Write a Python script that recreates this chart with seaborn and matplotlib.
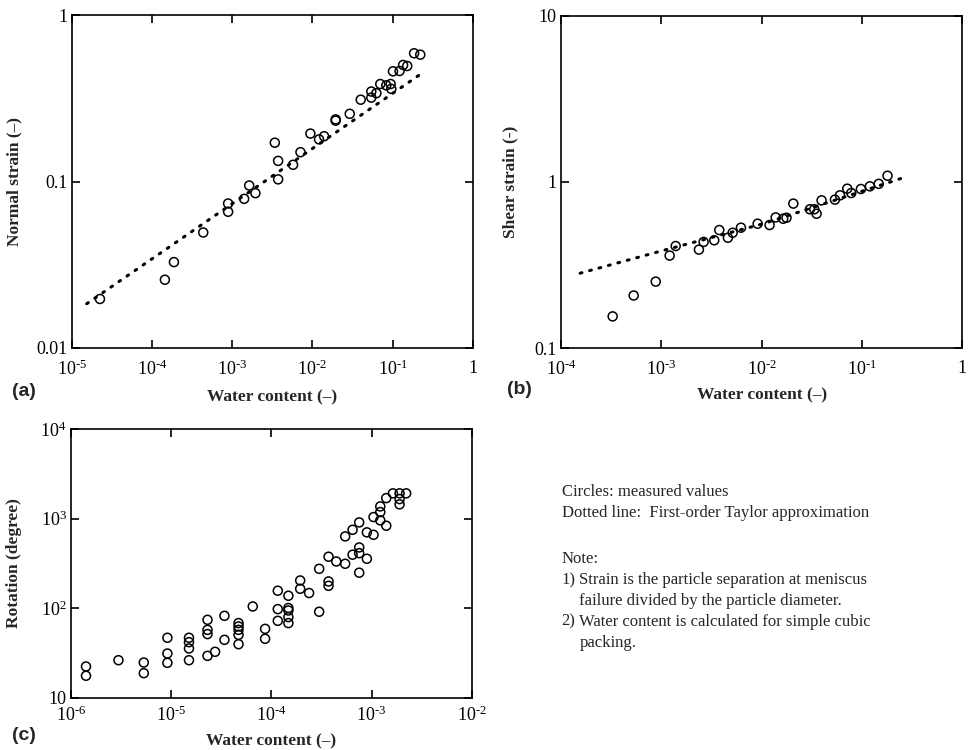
import numpy as np
import pandas as pd
import matplotlib
matplotlib.use('Agg')
from matplotlib import pyplot as plt
from matplotlib.ticker import FixedLocator, FixedFormatter, NullLocator
import seaborn as sns

# (a) normal strain vs water content
wc_a = [2.25e-5, 1.45e-4, 1.88e-4, 4.36e-4, 8.9e-4, 8.9e-4, 1.41e-3, 1.63e-3, 1.95e-3,
        3.40e-3, 3.74e-3, 3.74e-3, 5.74e-3, 7.10e-3, 9.44e-3, 1.21e-2, 1.40e-2, 1.95e-2,
        1.95e-2, 2.92e-2, 4.00e-2, 5.42e-2, 5.42e-2, 6.27e-2, 7.01e-2, 8.34e-2, 9.44e-2,
        9.62e-2, 0.101, 0.122, 0.135, 0.152, 0.185, 0.221]
strain_a = [0.0197, 0.0257, 0.0328, 0.0494, 0.0658, 0.0738, 0.0787, 0.0946, 0.0851,
            0.171, 0.133, 0.103, 0.126, 0.150, 0.194, 0.179, 0.187, 0.232,
            0.236, 0.255, 0.310, 0.319, 0.347, 0.339, 0.385, 0.378, 0.385,
            0.360, 0.459, 0.461, 0.501, 0.494, 0.589, 0.578]
taylor_wc_a = [1.54e-5, 0.232]
taylor_a = [0.01845, 0.447]

# (b) shear strain vs water content
wc_b = [3.27e-4, 5.30e-4, 8.79e-4, 1.21e-3, 1.39e-3, 2.37e-3, 2.64e-3, 3.37e-3, 3.78e-3,
        4.61e-3, 5.14e-3, 6.22e-3, 9.12e-3, 1.20e-2, 1.38e-2, 1.64e-2, 1.77e-2, 2.07e-2,
        3.03e-2, 3.35e-2, 3.53e-2, 3.96e-2, 5.38e-2, 6.04e-2, 7.14e-2, 7.83e-2, 9.77e-2,
        0.120, 0.147, 0.180]
strain_b = [0.155, 0.207, 0.251, 0.360, 0.411, 0.391, 0.435, 0.445, 0.513,
            0.461, 0.494, 0.530, 0.560, 0.550, 0.611, 0.600, 0.608, 0.740,
            0.684, 0.684, 0.643, 0.774, 0.782, 0.830, 0.910, 0.857, 0.906,
            0.940, 0.973, 1.089]
taylor_wc_b = [1.55e-4, 1.05e-3, 1.04e-2, 0.252]
taylor_b = [0.282, 0.387, 0.560, 1.054]

# (c) rotation vs water content
wc_c = [1.42e-6, 1.42e-6, 2.99e-6, 5.35e-6, 5.35e-6, 9.2e-6, 9.2e-6, 9.2e-6,
        1.51e-5, 1.51e-5, 1.51e-5, 1.51e-5, 2.31e-5, 2.31e-5, 2.31e-5, 2.31e-5,
        2.75e-5, 3.41e-5, 3.41e-5, 4.71e-5, 4.71e-5, 4.71e-5, 4.71e-5, 4.71e-5,
        6.53e-5, 8.67e-5, 8.67e-5, 1.16e-4, 1.16e-4, 1.16e-4,
        1.48e-4, 1.48e-4, 1.48e-4, 1.48e-4, 1.48e-4, 1.94e-4, 1.94e-4, 2.38e-4,
        3.0e-4, 3.0e-4, 3.72e-4, 3.72e-4, 3.72e-4, 4.44e-4, 5.45e-4, 5.45e-4,
        6.46e-4, 6.46e-4, 7.52e-4, 7.52e-4, 7.52e-4, 7.52e-4, 8.97e-4, 8.97e-4,
        1.045e-3, 1.045e-3, 1.22e-3, 1.22e-3, 1.22e-3, 1.40e-3, 1.40e-3,
        1.63e-3, 1.90e-3, 1.90e-3, 1.90e-3, 2.21e-3]
rot_c = [22.2, 17.5, 26.1, 24.6, 18.7, 46.5, 31.0, 24.4,
         46.5, 41.5, 35.3, 26.1, 73.8, 57.0, 51.1, 29.2,
         32.4, 81.8, 44.1, 67.8, 62.2, 57.0, 50.1, 39.4,
         104, 58.5, 45.3, 156, 97.1, 71.9,
         137, 100, 93.8, 79.1, 67.8, 203, 164, 147,
         274, 90.8, 198, 177, 374, 331, 631, 312,
         748, 394, 904, 475, 410, 248, 700, 355,
         1038, 658, 1365, 1180, 953, 1690, 830,
         1910, 1910, 1648, 1439, 1910]

xticks_a = [1e-5, 1e-4, 1e-3, 1e-2, 1e-1, 1]
xlabels_a = ['$10^{\\text{-5}}$', '$10^{\\text{-4}}$', '$10^{\\text{-3}}$',
             '$10^{\\text{-2}}$', '$10^{\\text{-1}}$', '1']
yticks_a = [0.01, 0.1, 1]
ylabels_a = ['0.01', '0.1', '1']
xticks_b = [1e-4, 1e-3, 1e-2, 1e-1, 1]
xlabels_b = ['$10^{\\text{-4}}$', '$10^{\\text{-3}}$', '$10^{\\text{-2}}$',
             '$10^{\\text{-1}}$', '1']
yticks_b = [0.1, 1, 10]
ylabels_b = ['0.1', '1', '10']
xticks_c = [1e-6, 1e-5, 1e-4, 1e-3, 1e-2]
xlabels_c = ['$10^{\\text{-6}}$', '$10^{\\text{-5}}$', '$10^{\\text{-4}}$',
             '$10^{\\text{-3}}$', '$10^{\\text{-2}}$']
yticks_c = [10, 100, 1000, 10000]
ylabels_c = ['10', '$10^{2}$', '$10^{3}$', '$10^{4}$']

sns.set_style('ticks')
plt.rcParams['font.family'] = ['Liberation Serif', 'DejaVu Serif']
plt.rcParams['mathtext.fontset'] = 'custom'
plt.rcParams['mathtext.rm'] = 'Liberation Serif'
plt.rcParams['mathtext.it'] = 'Liberation Serif'
plt.rcParams['axes.linewidth'] = 1.2

fig = plt.figure(figsize=(9.69, 7.5), dpi=100)
ax_a = fig.add_axes([0.074, 0.536, 0.414, 0.444])
ax_b = fig.add_axes([0.579, 0.536, 0.414, 0.443])
ax_c = fig.add_axes([0.073, 0.070, 0.414, 0.358])


def draw(ax, x, y, lx, ly, xt, xl, yt, yl, ylab, xpad, lpad):
    if lx is not None:
        sns.lineplot(x=lx, y=ly, ax=ax, color='black', linewidth=2.2,
                     linestyle=(0, (0.6, 2.6)), dash_capstyle='round')
    sns.scatterplot(x=x, y=y, ax=ax, marker='o', s=42, facecolor='none',
                    edgecolor='black', linewidth=1.1, zorder=3)
    ax.set_xscale('log')
    ax.set_yscale('log')
    ax.set_xlim(xt[0], xt[-1])
    ax.set_ylim(yt[0], yt[-1])
    ax.xaxis.set_major_locator(FixedLocator(xt))
    ax.xaxis.set_major_formatter(FixedFormatter(xl))
    ax.yaxis.set_major_locator(FixedLocator(yt))
    ax.yaxis.set_major_formatter(FixedFormatter(yl))
    ax.xaxis.set_minor_locator(NullLocator())
    ax.yaxis.set_minor_locator(NullLocator())
    ax.tick_params(which='major', direction='in', top=True, right=True,
                   length=6, width=1.2, labelsize=13, pad=3, colors='black')
    ax.tick_params(axis='x', pad=xpad)
    for s in ax.spines.values():
        s.set_visible(True)
        s.set_color('black')
    ax.set_xlabel('Water content (\u2013)', fontsize=12.5, fontweight='bold', labelpad=lpad)
    ax.set_ylabel(ylab, fontsize=12.5, fontweight='bold', labelpad=8)


draw(ax_a, wc_a, strain_a, taylor_wc_a, taylor_a, xticks_a, xlabels_a, yticks_a, ylabels_a,
     'Normal strain (\u2013)', 8.5, 7)
draw(ax_b, wc_b, strain_b, taylor_wc_b, taylor_b, xticks_b, xlabels_b, yticks_b, ylabels_b,
     'Shear strain (-)', 8.5, 6)
draw(ax_c, wc_c, rot_c, None, None, xticks_c, xlabels_c, yticks_c, ylabels_c,
     'Rotation (degree)', 6, 6)
ax_a.yaxis.set_label_coords(-0.124, 0.5)
ax_b.yaxis.set_label_coords(-0.107, 0.5)
ax_c.yaxis.set_label_coords(-0.121, 0.5)

for lab, (px, py) in zip(['(a)', '(b)', '(c)'], [(12, 392), (507, 390), (12, 736)]):
    fig.text(px / 969, 1 - py / 750, lab, fontsize=14, fontweight='bold',
             family=['Liberation Sans', 'DejaVu Sans'], va='center', ha='left')

notes = [
    (561.7, 491.7, 'Circles: measured values'),
    (561.7, 513.3, 'Dotted line:  First-order Taylor approximation'),
    (561.7, 559.3, 'Note:'),
    (561.7, 580.0, '1)'),
    (579.3, 580.0, 'Strain is the particle separation at meniscus'),
    (579.3, 601.0, 'failure divided by the particle diameter.'),
    (561.7, 621.7, '2)'),
    (579.3, 621.7, 'Water content is calculated for simple cubic'),
    (579.3, 643.0, 'packing.'),
]
for px, py, t in notes:
    fig.text(px / 969, 1 - py / 750, t, fontsize=12, va='center', ha='left')

fig.savefig('out.png', dpi=100)
